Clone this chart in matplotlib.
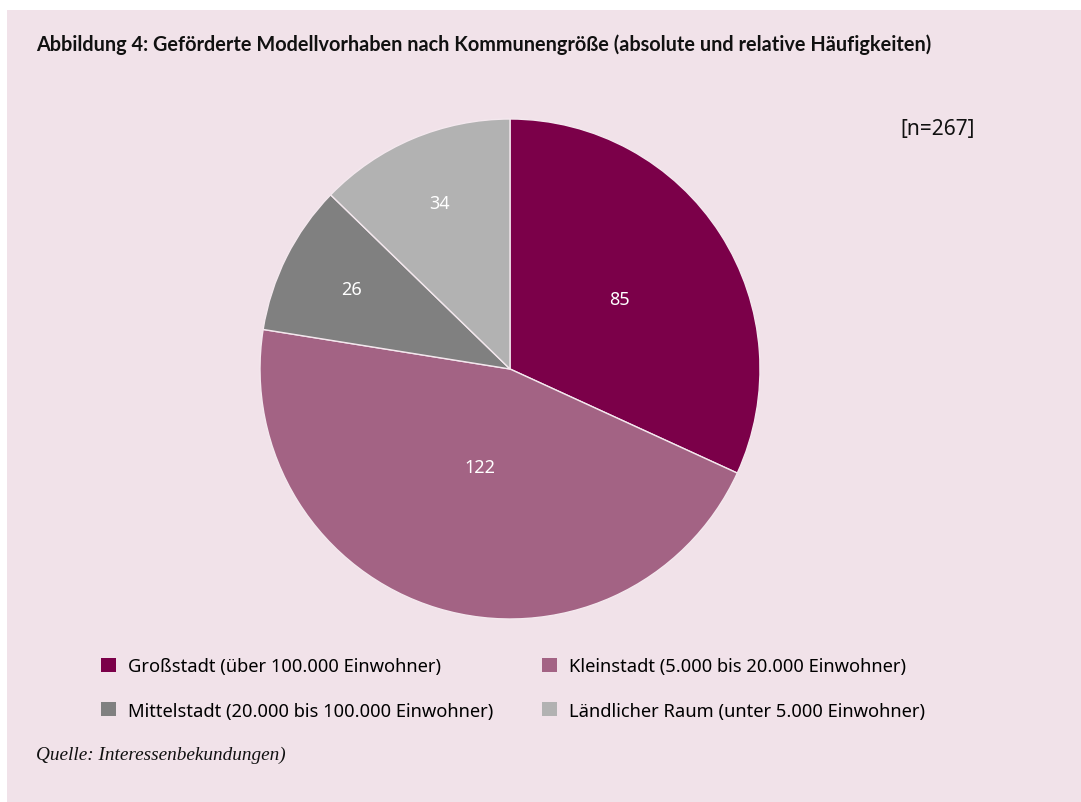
"""Abbildung 4: Geförderte Modellvorhaben nach Kommunengröße (pie chart)."""

import matplotlib

matplotlib.use("Agg", force=True)
import matplotlib.pyplot as plt
import numpy as np
from matplotlib.patches import Patch, Rectangle

# --- data -----------------------------------------------------------------
categories = [
    "Großstadt (über 100.000 Einwohner)",
    "Kleinstadt (5.000 bis 20.000 Einwohner)",
    "Mittelstadt (20.000 bis 100.000 Einwohner)",
    "Ländlicher Raum (unter 5.000 Einwohner)",
]
counts = [85, 122, 26, 34]
n_total = 267

# --- style ----------------------------------------------------------------
colors = ["#7B0049", "#A36384", "#808080", "#B2B2B2"]
label_distance = [0.52, 0.41, 0.71, 0.72]
background = "#F1E2E9"
W, H = 1081, 803

plt.rcParams["font.family"] = ["Noto Sans", "DejaVu Sans"]

fig = plt.figure(figsize=(W / 100, H / 100), dpi=100, facecolor="white")
fig.patches.append(
    Rectangle((7 / W, 0), 1 - 7 / W, 1 - 11 / H, transform=fig.transFigure,
              facecolor=background, edgecolor="none", zorder=-10)
)

ax = fig.add_axes([260 / W, (H - 620) / H, 500 / W, 500 / H])
ax.set_facecolor("none")
wedges, _, autotexts = ax.pie(
    counts,
    colors=colors,
    startangle=90,
    counterclock=False,
    radius=1.0,
    autopct=lambda p: f"{round(p * n_total / 100):d}",
    pctdistance=0.6,
    wedgeprops={"edgecolor": "#F4E8EE", "linewidth": 1.0},
    textprops={"color": "white", "fontsize": 13},
)
for wedge, text, dist in zip(wedges, autotexts, label_distance):
    mid = np.deg2rad((wedge.theta1 + wedge.theta2) / 2)
    text.set_position((dist * np.cos(mid), dist * np.sin(mid)))
ax.set_xlim(-1, 1)
ax.set_ylim(-1, 1)
ax.set_aspect("equal")
ax.axis("off")

fig.text(36 / W, 1 - 45 / H,
         "Abbildung 4: Geförderte Modellvorhaben nach Kommunengröße "
         "(absolute und relative Häufigkeiten)",
         fontsize=14.3, fontweight="bold", family=["Lato", "DejaVu Sans"],
         va="center", ha="left", color="#111111")
fig.text(975 / W, 1 - 130 / H, f"[n={n_total}]", fontsize=15, ha="right",
         va="center", color="#111111")
fig.text(36 / W, 1 - 755 / H, "Quelle: Interessenbekundungen)",
         fontsize=13.9, style="italic", family="Liberation Serif",
         ha="left", va="center", color="#111111")

# legend: column-first order so that the two rows match the reference
order = [0, 2, 1, 3]
handles = [Patch(facecolor=colors[i], edgecolor="none", label=categories[i])
           for i in order]
fig.legend(
    handles=handles,
    ncol=2,
    loc="upper left",
    bbox_to_anchor=(101 / W, 1 - 658 / H),
    frameon=False,
    fontsize=13.2,
    handlelength=0.8,
    handleheight=0.8,
    handletextpad=0.65,
    columnspacing=2.7,
    labelspacing=1.45,
    borderaxespad=0,
    borderpad=0,
)

fig.savefig("out.png", dpi=100, facecolor="white")
